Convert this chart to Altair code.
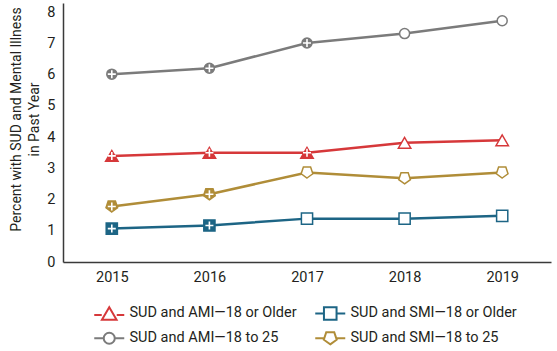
import altair as alt
import pandas as pd

years = ["2015", "2016", "2017", "2018", "2019"]
series = [
    "SUD and AMI—18 or Older",
    "SUD and SMI—18 or Older",
    "SUD and AMI—18 to 25",
    "SUD and SMI—18 to 25",
]
ami_18plus = [3.4, 3.5, 3.5, 3.82, 3.9]
smi_18plus = [1.07, 1.17, 1.39, 1.39, 1.48]
ami_18_25 = [6.02, 6.21, 7.02, 7.32, 7.73]
smi_18_25 = [1.78, 2.17, 2.87, 2.68, 2.87]
# filled marker with "+" = significantly different from 2019
sig_ami_18plus = [True, True, True, False, False]
sig_smi_18plus = [True, True, False, False, False]
sig_ami_18_25 = [True, True, True, False, False]
sig_smi_18_25 = [True, True, False, False, False]

values = [ami_18plus, smi_18plus, ami_18_25, smi_18_25]
sigs = [sig_ami_18plus, sig_smi_18plus, sig_ami_18_25, sig_smi_18_25]

# styles
colors = ["#d6383a", "#1d6585", "#7b7b7b", "#b08d38"]
pent = "M0,0.905L0.951,0.214L0.588,-0.904L-0.588,-0.904L-0.951,0.214Z"
marker_shapes = ["triangle-up", "square", "circle", pent]
marker_sizes = [155, 125, 100, 150]
legend_paths = [
    "M-2.5,0.25H-1.25M1.25,0.25H2.5M0,-1.05L1.22,1.05L-1.22,1.05Z",
    "M-2.5,0H-1.05M1.05,0H2.5M-1.05,-1.05H1.05V1.05H-1.05Z",
    "M-2.5,0H-0.92M0.92,0H2.5M-0.92,0A0.92,0.92 0 1,0 0.92,0A0.92,0.92 0 1,0 -0.92,0Z",
    "M-2.5,0H-1.08M1.08,0H2.5M0,1.02L1.075,0.24L0.665,-1.02L-0.665,-1.02L-1.075,0.24Z",
]

rows = []
for i, s in enumerate(series):
    for j, y in enumerate(years):
        rows.append({
            "series": s,
            "year": y,
            "value": values[i][j],
            "sig": sigs[i][j],
            "color": colors[i],
            "fillcol": colors[i] if sigs[i][j] else "white",
            "shape": marker_shapes[i],
            "size": marker_sizes[i],
        })
df = pd.DataFrame(rows)

FONT = "Roboto, Liberation Sans, Arial, sans-serif"

x = alt.X("year:O", scale=alt.Scale(type="point", padding=0.5, domain=years),
          axis=alt.Axis(title=None, labelAngle=0, ticks=False, labelPadding=8))
y = alt.Y("value:Q", scale=alt.Scale(domain=[0, 8.3], nice=False, zero=True),
          axis=alt.Axis(title=["Percent with SUD and Mental Illness", "in Past Year"],
                        values=list(range(9)), ticks=False, grid=False, labelPadding=8,
                        titlePadding=5, titleFontWeight="normal", titleFontSize=14,
                        titleLineHeight=18, titleY=116))

base = alt.Chart(df)

lines = base.mark_line(strokeWidth=2.5).encode(
    x=x, y=y,
    stroke=alt.Stroke("color:N", scale=None),
    detail="series:N",
)

points = base.mark_point(strokeWidth=1.5, opacity=1, fillOpacity=1).encode(
    x=x, y=y,
    fill=alt.Fill("fillcol:N", scale=None),
    stroke=alt.Stroke("color:N", scale=None),
    shape=alt.Shape("shape:N", scale=None),
    size=alt.Size("size:Q", scale=None),
)

plus = base.transform_filter("datum.sig").mark_point(
    shape="M-1,0H1M0,-1V1", size=64, stroke="white", strokeWidth=1.6,
    filled=False, opacity=1,
).encode(x=x, y=y)

leg = alt.Legend(title=None, orient="none", legendX=30, legendY=303,
                 direction="horizontal", columns=2,
                 symbolSize=144, symbolStrokeWidth=2,
                 symbolOffset=9, labelOffset=13, columnPadding=14,
                 rowPadding=4, padding=0, labelFontSize=14.5,
                 labelLimit=400, labelFont=FONT, labelColor="#231f20")

legend_layer = base.transform_filter("false").mark_point(
    strokeWidth=2, size=144, opacity=1, fillOpacity=1,
).encode(
    x=x, y=y,
    stroke=alt.Stroke("series:N", scale=alt.Scale(domain=series, range=colors), legend=leg),
    fill=alt.Fill("series:N", scale=alt.Scale(domain=series, range=["white"] * 4), legend=leg),
    shape=alt.Shape("series:N", scale=alt.Scale(domain=series, range=legend_paths), legend=leg),
)

chart = alt.layer(lines, points, plus, legend_layer).properties(
    width=488, height=259,
    autosize=alt.AutoSizeParams(type="none"),
    padding={"left": 63, "top": 3, "right": 6, "bottom": 89},
).configure_view(stroke=None).configure_axis(
    labelFont=FONT, titleFont=FONT, labelFontSize=14.5, labelColor="#231f20",
    titleColor="#231f20", domainColor="#3a3a3a", domainWidth=1.5,
)

chart.save("out.html", embed_options={"renderer": "svg", "actions": False})
